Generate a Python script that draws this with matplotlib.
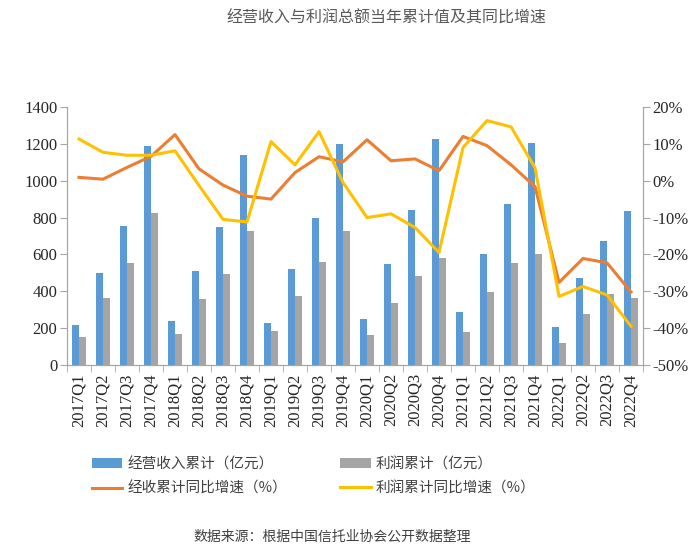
import matplotlib
matplotlib.use('Agg')
import matplotlib.pyplot as plt
import numpy as np

plt.rcParams['font.family'] = ['Noto Sans CJK SC', 'DejaVu Sans']

# %% data
quarters = ['2017Q1', '2017Q2', '2017Q3', '2017Q4', '2018Q1', '2018Q2', '2018Q3', '2018Q4',
            '2019Q1', '2019Q2', '2019Q3', '2019Q4', '2020Q1', '2020Q2', '2020Q3', '2020Q4',
            '2021Q1', '2021Q2', '2021Q3', '2021Q4', '2022Q1', '2022Q2', '2022Q3', '2022Q4']
revenue = [215, 497, 753, 1189, 241, 512, 746, 1137,
           228, 522, 796, 1200, 252, 550, 840, 1227,
           286, 601, 872, 1206, 205, 472, 673, 835]
profit = [153, 362, 551, 823, 168, 358, 493, 729,
          183, 373, 557, 725, 163, 339, 485, 583,
          180, 395, 555, 600, 122, 277, 384, 364]
rev_growth = [0.9, 0.4, 3.6, 6.6, 12.5, 3.2, -1.2, -4.2,
              -5.0, 2.2, 6.5, 5.1, 11.1, 5.4, 5.9, 2.7,
              12.0, 9.5, 4.3, -1.6, -27.6, -21.1, -22.3, -30.2]
profit_growth = [11.3, 7.7, 6.9, 6.9, 8.1, -1.3, -10.5, -11.2,
                 10.6, 4.3, 13.3, -0.5, -10.0, -9.0, -12.7, -19.5,
                 9.0, 16.3, 14.6, 3.5, -31.4, -28.7, -31.0, -39.5]

# %% plot
fig = plt.figure(figsize=(7, 5.57), dpi=100)
ax = fig.add_axes([0.0957, 0.3447, 0.8229, 0.4633])
ax2 = ax.twinx()

x = np.arange(len(quarters))
w = 0.28
b1 = ax.bar(x - w/2, revenue, w, color='#5B9BD5', label='经营收入累计（亿元）', zorder=2)
b2 = ax.bar(x + w/2, profit, w, color='#A5A5A5', label='利润累计（亿元）', zorder=2)
l1, = ax2.plot(x, rev_growth, color='#ED7D31', lw=2.2, label='经收累计同比增速（%）')
l2, = ax2.plot(x, profit_growth, color='#FFC000', lw=2.2, label='利润累计同比增速（%）')

ax.set_xlim(-0.5, len(quarters) - 0.5)
ax.set_ylim(0, 1400)
ax.set_yticks(np.arange(0, 1401, 200))
ax2.set_ylim(-50, 20)
ax2.set_yticks(np.arange(-50, 21, 10))
ax2.set_yticklabels([f'{v}%' for v in range(-50, 21, 10)])

ax.set_xticks(x)
ax.set_xticklabels(quarters, rotation=90)
ax.set_xticks(np.arange(-0.5, len(quarters), 1), minor=True)
ax.tick_params(axis='x', which='major', length=0, pad=6)
ax.tick_params(axis='x', which='minor', length=5, color='#A6A6A6')

serif = 'Liberation Serif'
for a in (ax, ax2):
    for lab in a.get_xticklabels() + a.get_yticklabels():
        lab.set_fontfamily(serif)
        lab.set_fontsize(12)
        lab.set_color('#262626')
    a.spines['top'].set_visible(False)
    for s in ('left', 'right', 'bottom'):
        a.spines[s].set_color('#A6A6A6')
ax.tick_params(axis='y', length=5, color='#A6A6A6', pad=2)
ax2.tick_params(axis='y', length=5, color='#A6A6A6', pad=2)

fig.text(0.552, 0.967, '经营收入与利润总额当年累计值及其同比增速', ha='center', va='center',
         fontsize=11.5, color='#595959')
fig.text(0.474, 0.036, '数据来源：根据中国信托业协会公开数据整理', ha='center', va='center',
         fontsize=10, color='#404040')

leg = fig.legend([b1, l1, b2, l2], [b1.get_label(), l1.get_label(), b2.get_label(), l2.get_label()],
                 ncol=2, loc='upper left', bbox_to_anchor=(0.112, 0.203), frameon=False,
                 fontsize=10.5, handlelength=2.1, handletextpad=0.35, columnspacing=3.65,
                 labelspacing=0.7)
for t in leg.get_texts():
    t.set_color('#404040')

fig.savefig('out.png', dpi=100)
